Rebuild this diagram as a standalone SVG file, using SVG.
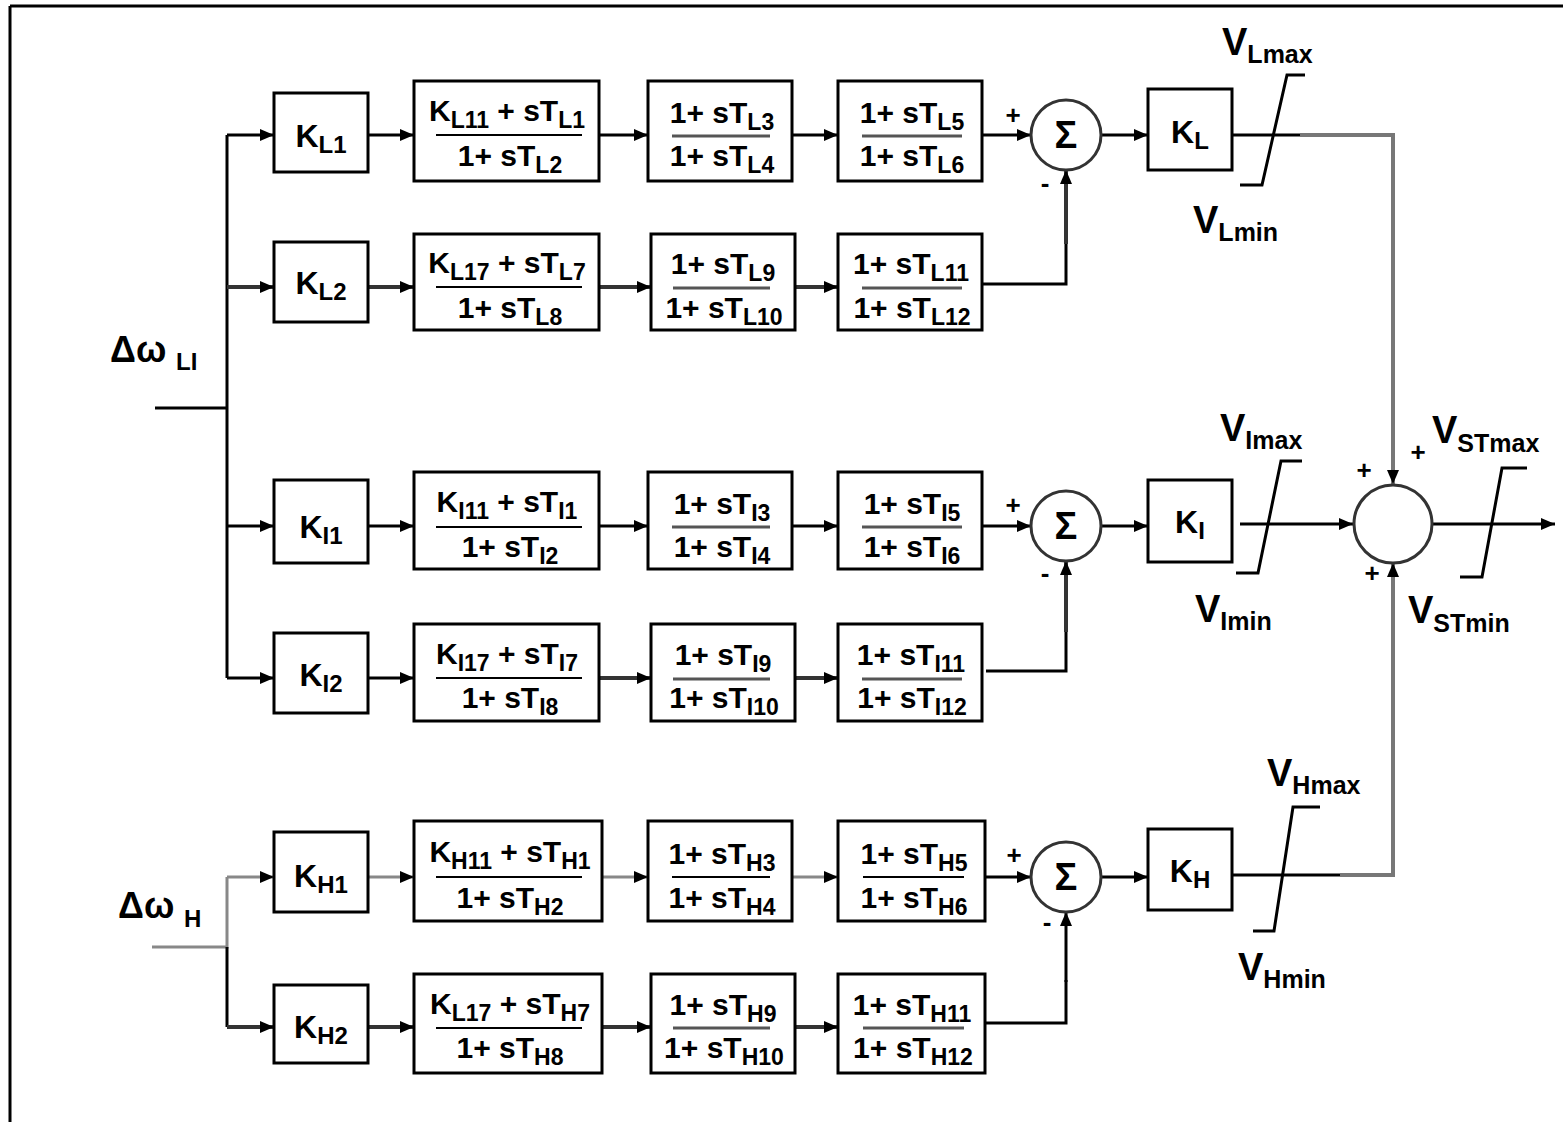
<svg xmlns="http://www.w3.org/2000/svg" width="1563" height="1122" viewBox="0 0 1563 1122">
<defs>
<marker id="ar" viewBox="0 0 14 14" refX="14" refY="7" markerWidth="14" markerHeight="14" markerUnits="userSpaceOnUse" orient="auto">
<path d="M0,1 L14,7 L0,13 z" fill="#000"/>
</marker>
<style>
.box{fill:#fff;stroke:#000;stroke-width:3}
.t{font-family:"Liberation Sans",Arial,sans-serif;font-weight:bold;font-size:30px;fill:#000}
.m{text-anchor:middle}
.s{font-size:23px}
.k{font-size:32px}
.ks{font-size:24px}
.v{font-size:38px}
.vs{font-size:25px}
.sg{font-size:26px}
.ln{stroke:#000;stroke-width:3;fill:none}
.ln2{stroke:#333;stroke-width:4;fill:none}
.gr{stroke:#777;stroke-width:4;fill:none}
.lg{stroke:#888;stroke-width:3;fill:none}
.fr{stroke:#000;stroke-width:2}
.fr2{stroke:#555;stroke-width:3}
.sum{fill:#fff;stroke:#333;stroke-width:3}
.lim{stroke:#000;stroke-width:3;fill:none}
</style>
</defs>
<rect width="1563" height="1122" fill="#fff"/>
<g id="frame">
<line x1="10" y1="6" x2="1563" y2="6" stroke="#000" stroke-width="3"/>
<line x1="10" y1="6" x2="10" y2="1122" stroke="#000" stroke-width="3"/>
</g>

<g id="connectors">
<path class="ln" d="M155,408 H227"/>
<path class="ln" d="M227,135 V678"/>
<path class="ln" d="M227,135 H274" marker-end="url(#ar)"/>
<path class="ln2" d="M227,287 H274" marker-end="url(#ar)"/>
<path class="ln" d="M227,526 H274" marker-end="url(#ar)"/>
<path class="ln" d="M227,678 H274" marker-end="url(#ar)"/>
<path class="lg" d="M152,947 H227 V877"/>
<path class="ln" d="M227,947 V1027"/>
<path class="lg" d="M227,877 H274" marker-end="url(#ar)"/>
<path class="ln2" d="M227,1027 H274" marker-end="url(#ar)"/>
<path class="ln" d="M368,135 H414" marker-end="url(#ar)"/>
<path class="ln" d="M599,135 H648" marker-end="url(#ar)"/>
<path class="ln" d="M792,135 H838" marker-end="url(#ar)"/>
<path class="ln" d="M982,135 H1031" marker-end="url(#ar)"/>
<path class="ln" d="M1101,135 H1148" marker-end="url(#ar)"/>
<path class="ln2" d="M368,287 H414" marker-end="url(#ar)"/>
<path class="ln2" d="M599,287 H651" marker-end="url(#ar)"/>
<path class="ln2" d="M795,287 H838" marker-end="url(#ar)"/>
<path class="ln" d="M982,284 H1066 V242"/>
<path class="ln2" d="M1066,244 V170" marker-end="url(#ar)"/>
<path class="ln" d="M368,526 H414" marker-end="url(#ar)"/>
<path class="ln" d="M599,526 H648" marker-end="url(#ar)"/>
<path class="ln" d="M792,526 H838" marker-end="url(#ar)"/>
<path class="ln" d="M982,526 H1031" marker-end="url(#ar)"/>
<path class="ln" d="M1101,526 H1148" marker-end="url(#ar)"/>
<path class="ln" d="M368,678 H414" marker-end="url(#ar)"/>
<path class="ln2" d="M599,678 H651" marker-end="url(#ar)"/>
<path class="ln2" d="M795,678 H838" marker-end="url(#ar)"/>
<path class="ln" d="M986,671 H1066 V630"/>
<path class="ln2" d="M1066,632 V561" marker-end="url(#ar)"/>
<path class="lg" d="M368,877 H414" marker-end="url(#ar)"/>
<path class="lg" d="M602,877 H648" marker-end="url(#ar)"/>
<path class="lg" d="M792,877 H838" marker-end="url(#ar)"/>
<path class="ln" d="M985,877 H1031" marker-end="url(#ar)"/>
<path class="ln" d="M1101,877 H1148" marker-end="url(#ar)"/>
<path class="ln2" d="M368,1027 H414" marker-end="url(#ar)"/>
<path class="ln2" d="M602,1027 H651" marker-end="url(#ar)"/>
<path class="ln2" d="M795,1027 H838" marker-end="url(#ar)"/>
<path class="ln" d="M985,1023 H1066 V980"/>
<path class="ln" d="M1066,982 V912" marker-end="url(#ar)"/>
<path class="ln" d="M1232,135 H1300"/>
<path class="gr" d="M1300,135 H1393 V470"/>
<path class="gr" d="M1393,470 V484" marker-end="url(#ar)"/>
<path class="ln" d="M1240,524 H1353" marker-end="url(#ar)"/>
<path class="ln" d="M1232,875 H1340"/>
<path class="gr" d="M1340,875 H1393 V575"/>
<path class="gr" d="M1393,575 V563" marker-end="url(#ar)"/>
<path class="ln" d="M1433,524 H1555" marker-end="url(#ar)"/>
</g>

<g id="limiters">
<path class="lim" d="M1240,185 H1262 L1287,75 H1305"/>
<path class="lim" d="M1236,573 H1258 L1281,461 H1302"/>
<path class="lim" d="M1253,931 H1274 L1293,807 H1320"/>
<path class="lim" d="M1460,577 H1482 L1502,468 H1527"/>
</g>

<g id="KL1"><rect class="box" x="274" y="93" width="94" height="79"/>
<text class="t k m" x="321" y="147">K<tspan class="ks" dy="6">L1</tspan></text></g>
<g id="BL1a"><rect class="box" x="414" y="81" width="185" height="100"/>
<text class="t m" x="507" y="121">K<tspan class="s" dy="7">L11</tspan><tspan dy="-7"> + sT</tspan><tspan class="s" dy="7">L1</tspan></text>
<line class="fr" x1="436" y1="135" x2="582" y2="135"/>
<text class="t m" x="510" y="166">1+ sT<tspan class="s" dy="7">L2</tspan></text></g>
<g id="BL1b"><rect class="box" x="648" y="81" width="144" height="100"/>
<text class="t m" x="722" y="123">1+ sT<tspan class="s" dy="7">L3</tspan></text>
<line class="fr2" x1="672" y1="136" x2="770" y2="136"/>
<text class="t m" x="722" y="166">1+ sT<tspan class="s" dy="7">L4</tspan></text></g>
<g id="BL1c"><rect class="box" x="838" y="81" width="144" height="100"/>
<text class="t m" x="912" y="123">1+ sT<tspan class="s" dy="7">L5</tspan></text>
<line class="fr2" x1="862" y1="136" x2="962" y2="136"/>
<text class="t m" x="912" y="166">1+ sT<tspan class="s" dy="7">L6</tspan></text></g>

<g id="KL2"><rect class="box" x="274" y="242" width="94" height="80"/>
<text class="t k m" x="321" y="294">K<tspan class="ks" dy="6">L2</tspan></text></g>
<g id="BL2a"><rect class="box" x="414" y="234" width="185" height="96"/>
<text class="t m" x="507" y="273">K<tspan class="s" dy="7">L17</tspan><tspan dy="-7"> + sT</tspan><tspan class="s" dy="7">L7</tspan></text>
<line class="fr" x1="436" y1="287" x2="582" y2="287"/>
<text class="t m" x="510" y="318">1+ sT<tspan class="s" dy="7">L8</tspan></text></g>
<g id="BL2b"><rect class="box" x="651" y="234" width="144" height="96"/>
<text class="t m" x="723" y="274">1+ sT<tspan class="s" dy="7">L9</tspan></text>
<line class="fr2" x1="673" y1="288" x2="770" y2="288"/>
<text class="t m" x="724" y="318">1+ sT<tspan class="s" dy="7">L10</tspan></text></g>
<g id="BL2c"><rect class="box" x="838" y="234" width="144" height="96"/>
<text class="t m" x="911" y="274">1+ sT<tspan class="s" dy="7">L11</tspan></text>
<line class="fr2" x1="862" y1="288" x2="962" y2="288"/>
<text class="t m" x="912" y="318">1+ sT<tspan class="s" dy="7">L12</tspan></text></g>

<g id="KI1"><rect class="box" x="274" y="480" width="94" height="83"/>
<text class="t k m" x="321" y="538">K<tspan class="ks" dy="6">I1</tspan></text></g>
<g id="BI1a"><rect class="box" x="414" y="472" width="185" height="97"/>
<text class="t m" x="507" y="512">K<tspan class="s" dy="7">I11</tspan><tspan dy="-7"> + sT</tspan><tspan class="s" dy="7">I1</tspan></text>
<line class="fr" x1="436" y1="527" x2="582" y2="527"/>
<text class="t m" x="510" y="557">1+ sT<tspan class="s" dy="7">I2</tspan></text></g>
<g id="BI1b"><rect class="box" x="648" y="472" width="144" height="97"/>
<text class="t m" x="722" y="514">1+ sT<tspan class="s" dy="7">I3</tspan></text>
<line class="fr2" x1="672" y1="527" x2="770" y2="527"/>
<text class="t m" x="722" y="557">1+ sT<tspan class="s" dy="7">I4</tspan></text></g>
<g id="BI1c"><rect class="box" x="838" y="472" width="144" height="97"/>
<text class="t m" x="912" y="514">1+ sT<tspan class="s" dy="7">I5</tspan></text>
<line class="fr2" x1="862" y1="527" x2="962" y2="527"/>
<text class="t m" x="912" y="557">1+ sT<tspan class="s" dy="7">I6</tspan></text></g>

<g id="KI2"><rect class="box" x="274" y="633" width="94" height="80"/>
<text class="t k m" x="321" y="686">K<tspan class="ks" dy="6">I2</tspan></text></g>
<g id="BI2a"><rect class="box" x="414" y="624" width="185" height="97"/>
<text class="t m" x="507" y="664">K<tspan class="s" dy="7">I17</tspan><tspan dy="-7"> + sT</tspan><tspan class="s" dy="7">I7</tspan></text>
<line class="fr" x1="436" y1="678" x2="582" y2="678"/>
<text class="t m" x="510" y="708">1+ sT<tspan class="s" dy="7">I8</tspan></text></g>
<g id="BI2b"><rect class="box" x="651" y="624" width="144" height="97"/>
<text class="t m" x="723" y="665">1+ sT<tspan class="s" dy="7">I9</tspan></text>
<line class="fr2" x1="673" y1="679" x2="770" y2="679"/>
<text class="t m" x="724" y="708">1+ sT<tspan class="s" dy="7">I10</tspan></text></g>
<g id="BI2c"><rect class="box" x="838" y="624" width="144" height="97"/>
<text class="t m" x="911" y="665">1+ sT<tspan class="s" dy="7">I11</tspan></text>
<line class="fr2" x1="862" y1="679" x2="962" y2="679"/>
<text class="t m" x="912" y="708">1+ sT<tspan class="s" dy="7">I12</tspan></text></g>

<g id="KH1"><rect class="box" x="274" y="832" width="94" height="80"/>
<text class="t k m" x="321" y="887">K<tspan class="ks" dy="6">H1</tspan></text></g>
<g id="BH1a"><rect class="box" x="414" y="821" width="188" height="100"/>
<text class="t m" x="510" y="862">K<tspan class="s" dy="7">H11</tspan><tspan dy="-7"> + sT</tspan><tspan class="s" dy="7">H1</tspan></text>
<line class="fr" x1="436" y1="877" x2="582" y2="877"/>
<text class="t m" x="510" y="908">1+ sT<tspan class="s" dy="7">H2</tspan></text></g>
<g id="BH1b"><rect class="box" x="648" y="821" width="144" height="100"/>
<text class="t m" x="722" y="864">1+ sT<tspan class="s" dy="7">H3</tspan></text>
<line class="fr" x1="672" y1="877" x2="770" y2="877"/>
<text class="t m" x="722" y="908">1+ sT<tspan class="s" dy="7">H4</tspan></text></g>
<g id="BH1c"><rect class="box" x="838" y="821" width="147" height="100"/>
<text class="t m" x="914" y="864">1+ sT<tspan class="s" dy="7">H5</tspan></text>
<line class="fr" x1="863" y1="877" x2="964" y2="877"/>
<text class="t m" x="914" y="908">1+ sT<tspan class="s" dy="7">H6</tspan></text></g>

<g id="KH2"><rect class="box" x="274" y="985" width="94" height="78"/>
<text class="t k m" x="321" y="1038">K<tspan class="ks" dy="6">H2</tspan></text></g>
<g id="BH2a"><rect class="box" x="414" y="974" width="188" height="99"/>
<text class="t m" x="510" y="1014">K<tspan class="s" dy="7">L17</tspan><tspan dy="-7"> + sT</tspan><tspan class="s" dy="7">H7</tspan></text>
<line class="fr" x1="436" y1="1028" x2="582" y2="1028"/>
<text class="t m" x="510" y="1058">1+ sT<tspan class="s" dy="7">H8</tspan></text></g>
<g id="BH2b"><rect class="box" x="651" y="974" width="144" height="99"/>
<text class="t m" x="723" y="1015">1+ sT<tspan class="s" dy="7">H9</tspan></text>
<line class="fr2" x1="673" y1="1028" x2="770" y2="1028"/>
<text class="t m" x="724" y="1058">1+ sT<tspan class="s" dy="7">H10</tspan></text></g>
<g id="BH2c"><rect class="box" x="838" y="974" width="147" height="99"/>
<text class="t m" x="912" y="1015">1+ sT<tspan class="s" dy="7">H11</tspan></text>
<line class="fr2" x1="863" y1="1028" x2="964" y2="1028"/>
<text class="t m" x="913" y="1058">1+ sT<tspan class="s" dy="7">H12</tspan></text></g>

<g id="SumL"><circle class="sum" cx="1066" cy="135" r="35"/>
<text class="t m" x="1066" y="148" style="font-size:38px">Σ</text>
<text class="t sg m" x="1013" y="124">+</text><text class="t sg m" x="1045" y="192">-</text></g>
<g id="SumI"><circle class="sum" cx="1066" cy="526" r="35"/>
<text class="t m" x="1066" y="539" style="font-size:38px">Σ</text>
<text class="t sg m" x="1013" y="514">+</text><text class="t sg m" x="1045" y="582">-</text></g>
<g id="SumH"><circle class="sum" cx="1066" cy="877" r="35"/>
<text class="t m" x="1066" y="890" style="font-size:38px">Σ</text>
<text class="t sg m" x="1014" y="864">+</text><text class="t sg m" x="1047" y="931">-</text></g>

<g id="KL"><rect class="box" x="1148" y="89" width="84" height="81"/>
<text class="t k m" x="1190" y="143">K<tspan class="ks" dy="6">L</tspan></text></g>
<g id="KI"><rect class="box" x="1148" y="480" width="84" height="82"/>
<text class="t k m" x="1190" y="533">K<tspan class="ks" dy="6">I</tspan></text></g>
<g id="KH"><rect class="box" x="1148" y="829" width="84" height="81"/>
<text class="t k m" x="1190" y="882">K<tspan class="ks" dy="6">H</tspan></text></g>

<g id="SumST"><circle class="sum" cx="1393" cy="524" r="39"/>
<text class="t sg m" x="1364" y="479">+</text>
<text class="t sg m" x="1418" y="461">+</text>
<text class="t sg m" x="1372" y="582">+</text></g>

<g id="labels">
<text class="t v" x="1222" y="55">V<tspan class="vs" dy="8">Lmax</tspan></text>
<text class="t v" x="1193" y="233">V<tspan class="vs" dy="8">Lmin</tspan></text>
<text class="t v" x="1220" y="441">V<tspan class="vs" dy="8">Imax</tspan></text>
<text class="t v" x="1195" y="622">V<tspan class="vs" dy="8">Imin</tspan></text>
<text class="t v" x="1432" y="443">V<tspan class="vs" dy="9">STmax</tspan></text>
<text class="t v" x="1408" y="623">V<tspan class="vs" dy="9">STmin</tspan></text>
<text class="t v" x="1267" y="786">V<tspan class="vs" dy="8">Hmax</tspan></text>
<text class="t v" x="1238" y="980">V<tspan class="vs" dy="8">Hmin</tspan></text>
<text class="t" x="110" y="362" style="font-size:36px">Δω</text>
<text class="t" x="176" y="370" style="font-size:24px">LI</text>
<text class="t" x="118" y="918" style="font-size:36px">Δω</text>
<text class="t" x="184" y="927" style="font-size:24px">H</text>
</g>
</svg>
